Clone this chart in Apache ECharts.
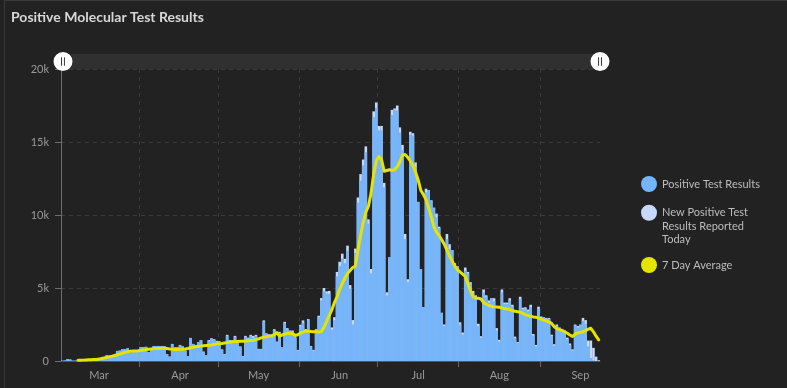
<!DOCTYPE html>
<html><head><meta charset="utf-8">
<script src="https://cdn.jsdelivr.net/npm/echarts@6/dist/echarts.min.js"></script>
<style>
html,body{margin:0;padding:0;background:#222222;overflow:hidden;}
#chart{position:absolute;left:0;top:0;width:787px;height:388px;}
#frame{position:absolute;left:4px;top:0;width:783px;height:388px;border-left:1px solid #3a3a3a;border-top:1px solid #3a3a3a;box-sizing:border-box;pointer-events:none;}
</style></head><body>
<div id="chart"></div><div id="frame"></div>
<script>
// ---- data (one value per day, starting 2020-03-02) ----
const startDate = '2020-03-02';
const positive = [
 20,30,120,100,20,20,30,40,40,50,
 60,70,60,80,180,170,190,390,300,280,
 310,690,710,800,820,870,570,750,740,760,
 960,950,970,600,820,1030,1020,1030,1030,1010,
 480,300,1170,940,950,1100,1000,710,340,1580,
 1170,1100,1280,1440,640,410,1390,1510,1450,1330,
 1310,770,450,1730,1390,1370,1660,1350,960,320,
 1660,1540,1730,1600,1730,800,800,2700,1840,1770,
 1770,2100,1290,1920,900,2600,2170,2030,2030,1570,
 720,2380,2630,2100,2790,990,700,2100,3000,4160,
 4770,4620,4600,2150,2800,5800,6500,7000,6700,7550,
 4950,2500,7400,10850,12350,13400,14300,9400,6000,16700,
 17350,15800,15800,11900,4500,7100,16850,17200,17150,15650,
 14450,8350,5400,15500,15450,13300,10900,6300,3700,11550,
 11700,11000,10500,9850,9100,3300,2400,8350,7650,7600,
 6500,6500,2500,1800,6200,6000,5300,4600,4400,2400,
 1600,4700,4400,4000,4300,4100,2100,1350,4700,3900,
 3900,4150,3750,1570,1250,4250,3550,3580,3420,3700,
 1750,1000,3570,2950,2950,2900,2900,1700,1050,2400,
 2250,2150,2050,1500,1100,700,2450,2300,2450,2750,
 2550,1000,200,50,0,0
];
const newToday = [
 0,0,0,0,0,0,0,0,0,0,
 0,0,0,0,0,0,0,0,0,0,
 0,0,0,0,0,0,0,0,0,0,
 0,0,0,0,0,0,0,0,0,0,
 0,0,0,0,0,0,0,0,0,0,
 0,0,0,0,0,0,50,50,50,50,
 50,30,30,60,50,50,60,50,40,20,
 60,60,60,120,60,30,30,80,60,60,
 60,80,40,80,40,80,80,60,60,60,
 40,100,150,80,80,40,60,80,100,150,
 230,150,200,150,200,300,300,350,300,350,
 250,300,300,350,450,400,400,300,300,400,
 350,300,300,300,200,0,350,100,350,350,
 350,350,200,200,150,300,0,0,0,250,
 0,0,0,250,100,0,100,350,350,0,
 200,0,150,150,200,100,100,200,100,150,
 100,200,100,150,0,200,150,100,200,100,
 100,150,100,100,50,150,100,100,100,150,
 100,100,150,100,50,50,50,100,100,100,
 50,50,50,100,100,100,50,100,50,200,
 250,400,1200,850,300,50
];
const avg7 = [
 null,null,null,null,null,null,50,50,60,70,
 80,90,100,110,130,170,210,250,290,330,
 380,430,480,540,590,640,660,680,690,700,
 720,750,780,800,820,840,850,860,870,870,
 850,820,800,790,790,800,800,820,860,910,
 940,970,1000,1020,1040,1060,1080,1100,1130,1160,
 1180,1200,1230,1260,1290,1320,1330,1340,1350,1360,
 1370,1380,1400,1420,1460,1520,1580,1640,1660,1690,
 1720,1800,1940,1700,1780,1850,1880,1900,1880,1750,
 1800,1920,1980,2050,2030,2020,2000,2000,1980,2020,
 2300,2700,3100,3500,4000,4400,4900,5300,5700,6000,
 6200,6400,6500,7600,8600,9500,10200,10600,11500,12800,
 13700,14000,13800,13000,13050,13100,13050,13100,13300,13650,
 14100,14150,13950,13700,13400,12950,12400,11700,11400,11050,
 10500,9900,9200,8850,8600,8300,8000,7600,7200,6850,
 6500,6250,6100,5950,5800,5300,4800,4400,4300,4300,
 4250,4000,3900,3800,3750,3720,3700,3680,3640,3600,
 3560,3520,3460,3400,3380,3340,3260,3180,3120,3060,
 3020,3000,2940,2870,2800,2740,2680,2580,2350,2220,
 2150,2080,2000,1900,1780,1680,1850,1920,1960,2000,
 2080,2180,2240,2000,1700,1450
];
const monthStarts = ['2020-04-01','2020-05-01','2020-06-01','2020-07-01','2020-08-01','2020-09-01'];
const monthLabelDates = ['2020-03-16','2020-04-16','2020-05-16','2020-06-16','2020-07-16','2020-08-16','2020-09-16'];
const monthLabels = ['Mar','Apr','May','Jun','Jul','Aug','Sep'];
const yTicks = [0,5000,10000,15000,20000];
const yTickLabels = ['0','5k','10k','15k','20k'];
const seriesNames = ['Positive Test Results','New Positive Test Results Reported Today','7 Day Average'];

// ---- helpers: x axis counts days from startDate (a day's bar sits in [i, i+1]) ----
function utcDay(s){ const p = s.split('-').map(Number); return Date.UTC(p[0], p[1]-1, p[2]); }
const t0 = utcDay(startDate);
function dayIndex(s){ return Math.round((utcDay(s) - t0) / 86400000); }
const nDays = positive.length;
const tickVals = monthStarts.map(dayIndex);
const labelVals = monthLabelDates.map(s => dayIndex(s) + 0.5);
const posData = positive.map((v,i) => [i + 0.5, v]);
// "reported today" sits on top of the positive results: drawn as the combined height behind the blue bar
const newData = newToday.map((v,i) => [i + 0.5, positive[i] + v]);
const avgData = avg7.map((v,i) => [i + 0.5, v]);

const labelFont = 'Lato, "Noto Sans", sans-serif';
const chart = echarts.init(document.getElementById('chart'), null, {renderer:'canvas'});
chart.setOption({
  backgroundColor: '#222222',
  animation: false,
  title: {
    text: 'Positive Molecular Test Results', left: 6, top: 5,
    textStyle: {color:'#d7d7d7', fontSize:14, fontWeight:'bold', fontFamily: labelFont}
  },
  grid: {left: 61, right: 187, top: 69, bottom: 27},
  xAxis: {
    type: 'value', min: 0, max: nDays,
    axisLine: {show: true, onZero: false, lineStyle: {color: '#555555'}},
    axisTick: {show: true, length: 6, lineStyle: {color: '#666666'}, customValues: tickVals},
    axisLabel: {
      customValues: labelVals, margin: 9, color: '#9a9a9a', fontSize: 11, fontFamily: labelFont,
      formatter: function(v){ const k = labelVals.indexOf(v); return k >= 0 ? monthLabels[k] : ''; }
    },
    splitLine: {show: true, lineStyle: {type: [4,4], color: '#3b3b3b'}}
  },
  yAxis: {
    type: 'value', min: 0, max: 20000, interval: 5000,
    axisLine: {show: true, lineStyle: {color: '#6e6e6e'}},
    axisTick: {show: true, length: 6, lineStyle: {color: '#6e6e6e'}},
    axisLabel: {
      margin: 12, color: '#9a9a9a', fontSize: 11, fontFamily: labelFont,
      formatter: function(v){ const k = yTicks.indexOf(v); return k >= 0 ? yTickLabels[k] : ''; }
    },
    splitLine: {show: true, lineStyle: {type: [4,4], color: '#3b3b3b'}}
  },
  dataZoom: [{
    type: 'slider', xAxisIndex: 0, start: 0, end: 100, filterMode: 'none',
    left: 61, right: 187, top: 54, height: 15,
    showDetail: false, showDataShadow: false, brushSelect: false,
    borderColor: 'transparent', backgroundColor: '#303030', fillerColor: 'rgba(0,0,0,0)',
    dataBackground: {lineStyle:{opacity:0}, areaStyle:{opacity:0}},
    selectedDataBackground: {lineStyle:{opacity:0}, areaStyle:{opacity:0}},
    handleIcon: 'path://M10,0A10,10,0,1,1,10,20A10,10,0,1,1,10,0ZM8,5.5L8,14.5L9,14.5L9,5.5ZM11,5.5L11,14.5L12,14.5L12,5.5Z',
    handleSize: 19,
    handleStyle: {color: '#ffffff', borderWidth: 0},
    moveHandleSize: 0,
    moveHandleStyle: {opacity: 0},
    emphasis: {handleStyle: {color: '#ffffff', borderWidth: 0}, moveHandleStyle: {opacity: 0}}
  }],
  legend: [
    {data: [seriesNames[0]], orient: 'vertical', left: 641, top: 176, padding: 0,
     icon: 'circle', itemWidth: 16, itemHeight: 16,
     textStyle: {color: '#bdbdbd', fontSize: 11, fontFamily: labelFont}},
    {data: [seriesNames[1]], orient: 'vertical', left: 641, top: 179, padding: 0,
     icon: 'circle', itemWidth: 16, itemHeight: 16,
     formatter: ' \n \nNew Positive Test\nResults Reported\nToday',
     textStyle: {color: '#bdbdbd', fontSize: 11, fontFamily: labelFont, lineHeight: 13.5}},
    {data: [seriesNames[2]], orient: 'vertical', left: 641, top: 257, padding: 0,
     icon: 'circle', itemWidth: 16, itemHeight: 16,
     textStyle: {color: '#bdbdbd', fontSize: 11, fontFamily: labelFont}}
  ],
  series: [
    {name: seriesNames[1], type: 'bar', data: newData, barGap: '-100%',
     barCategoryGap: '0%', itemStyle: {color: '#c6d9fb'}, emphasis: {disabled: true}},
    {name: seriesNames[0], type: 'bar', data: posData, barGap: '-100%',
     barCategoryGap: '0%', itemStyle: {color: '#74b5fb'}, emphasis: {disabled: true}},
    {name: seriesNames[2], type: 'line', data: avgData, symbol: 'none', connectNulls: false,
     itemStyle: {color: '#e4e400'},
     lineStyle: {color: '#e4e400', width: 3, join: 'round', cap: 'round'}, z: 5}
  ]
});
</script></body></html>
